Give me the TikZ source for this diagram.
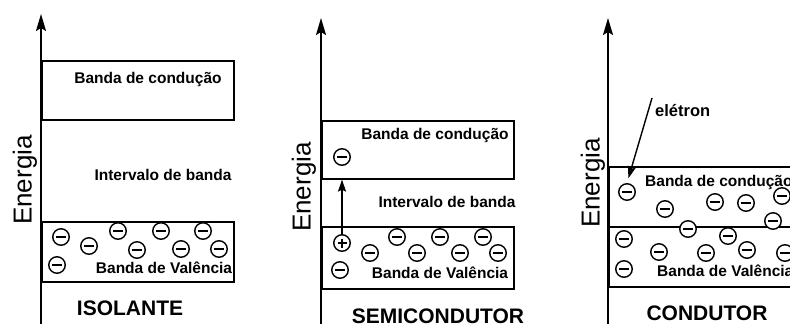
\documentclass[tikz,border=0pt]{standalone}
\usepackage{fontspec}
\setmainfont{Liberation Sans}
\usetikzlibrary{arrows.meta,positioning,calc}

\tikzset{
  banda/.style={draw, line width=1.6pt, anchor=north west, minimum width=192pt, inner sep=0pt},
  rotulo/.style={font=\fontsize{15.5}{18}\selectfont\bfseries, inner sep=0pt},
  titulo/.style={font=\fontsize{21}{24}\selectfont\bfseries, inner sep=0pt},
  energia/.style={font=\fontsize{26}{30}\selectfont, rotate=90, inner sep=0pt},
  eixo/.style={line width=1.7pt, -{Stealth[length=17pt,width=10pt,inset=3pt]}},
  eletron/.style={circle, draw, fill=white, line width=1.4pt, minimum size=16.5pt, inner sep=0pt,
    path picture={\draw[line width=2.5pt] ([xshift=-5pt]path picture bounding box.center) -- ([xshift=5pt]path picture bounding box.center);}},
  lacuna/.style={circle, draw, fill=white, line width=1.4pt, minimum size=16.5pt, inner sep=0pt,
    path picture={\draw[line width=2.2pt] ([xshift=-4.5pt]path picture bounding box.center) -- ([xshift=4.5pt]path picture bounding box.center)
      ([yshift=-4.5pt]path picture bounding box.center) -- ([yshift=4.5pt]path picture bounding box.center);}},
  seta/.style={line width=1.4pt, -{Stealth[length=12pt,width=8pt,inset=2pt]}}
}

\begin{document}
\begin{tikzpicture}[x=1pt,y=-1pt]
\useasboundingbox (0,0) rectangle (790,324);
\clip (0,0) rectangle (790,324);

% ISOLANTE
\coordinate (baseA) at (41,324);
\coordinate (topoA) at (41,14);
\node[banda, minimum height=59pt] (condA) at (41,60) {};
\node[banda, minimum height=60pt] (valA) at (41,221) {};
\draw[eixo] (baseA) -- (topoA);
\node[energia] (enA) at (25,180) {Energia};
\node[rotulo] (tcondA) at (148,79) {Banda de condução};
\node[rotulo] (gapA) at (163,175) {Intervalo de banda};
\node[rotulo] (tvalA) at (164,268) {Banda de Valência};
\foreach \p [count=\i] in {(61,237),(57,265),(89,246),(118,231),(137,250),(161,231),(181,249),(203,231),(219,249)}
  \node[eletron] (eA\i) at \p {};
\node[titulo] (tituloA) at (130,308) {ISOLANTE};

% SEMICONDUTOR
\coordinate (baseB) at (321,324);
\coordinate (topoB) at (321,18);
\node[banda, minimum height=58pt] (condB) at (321,120) {};
\node[banda, minimum height=62pt] (valB) at (321,226) {};
\draw[eixo] (baseB) -- (topoB);
\node[energia] (enB) at (304,187) {Energia};
\node[rotulo] (tcondB) at (435,135) {Banda de condução};
\node[rotulo] (gapB) at (447,202) {Intervalo de banda};
\node[rotulo] (tvalB) at (440,273) {Banda de Valência};
\node[eletron] (eB0) at (342,157) {};
\node[lacuna] (hB) at (342,243) {};
\foreach \p [count=\i] in {(340,270),(370,253),(397,237),(417,253),(440,237),(460,253),(483,237),(498,253)}
  \node[eletron] (eB\i) at \p {};
\draw[seta] (hB.north) -- (hB |- condB.south);
\node[titulo] (tituloB) at (438,316) {SEMICONDUTOR};

% CONDUTOR
\coordinate (baseC) at (608,324);
\coordinate (topoC) at (608,18);
\node[banda, minimum height=60pt] (condC) at (608,166) {};
\node[banda, minimum height=60pt] (valC) at (608,226) {};
\draw[eixo] (baseC) -- (topoC);
\node[energia] (enC) at (593,183) {Energia};
\node[rotulo, anchor=west] (tcondC) at (645,182) {Banda de condução};
\node[rotulo, anchor=west] (tvalC) at (657,271) {Banda de Valência};
\foreach \p [count=\i] in {(627,192),(665,209),(715,202),(746,203),(782,196),(773,221),(688,229),(728,236),(624,239),(624,269),(659,252),(706,253),(747,250),(785,253)}
  \node[eletron] (eC\i) at \p {};
\node[rotulo, anchor=west, font=\fontsize{16.5}{19}\selectfont\bfseries] (tele) at (655,111) {elétron};
\coordinate (rabo) at (652,98);
\draw[seta, shorten >=5pt] (rabo) -- (eC1.north);
\node[titulo] (tituloC) at (707,313) {CONDUTOR};
\end{tikzpicture}
\end{document}
